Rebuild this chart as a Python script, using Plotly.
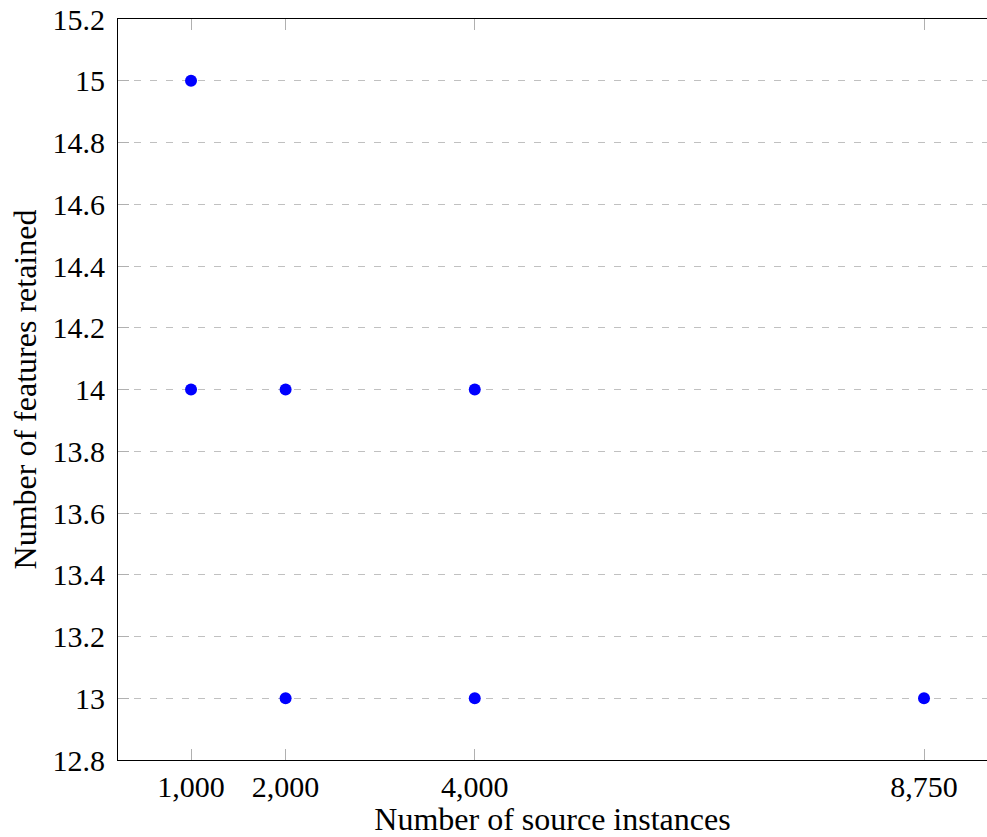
import plotly.graph_objects as go

source_instances = [1000, 1000, 2000, 2000, 4000, 4000, 8750]
features_retained = [15, 14, 14, 13, 14, 13, 13]
x_ticks = [1000, 2000, 4000, 8750]
x_tick_labels = ["1,000", "2,000", "4,000", "8,750"]
y_ticks = [12.8, 13, 13.2, 13.4, 13.6, 13.8, 14, 14.2, 14.4, 14.6, 14.8, 15, 15.2]
y_tick_labels = ["12.8", "13", "13.2", "13.4", "13.6", "13.8", "14", "14.2", "14.4", "14.6", "14.8", "15", "15.2"]

font_family = "Liberation Serif, DejaVu Serif, serif"

fig = go.Figure(
    go.Scatter(
        x=source_instances,
        y=features_retained,
        mode="markers",
        marker=dict(color="#0000ff", size=12, line=dict(width=0)),
        showlegend=False,
    )
)

fig.update_layout(
    width=987,
    height=837,
    margin=dict(l=118, r=0, t=19, b=77, autoexpand=False),
    paper_bgcolor="white",
    plot_bgcolor="white",
    font=dict(family=font_family, size=30, color="black"),
)

fig.update_xaxes(
    automargin=False,
    range=[228, 9416],
    tickvals=x_ticks,
    ticktext=x_tick_labels,
    showgrid=False,
    zeroline=False,
    showline=True,
    linecolor="black",
    linewidth=1.2,
    mirror="allticks",
    ticks="inside",
    ticklen=11,
    tickcolor="#b0b0b0",
    tickwidth=1.2,
    ticklabelstandoff=0,
    title=dict(text="Number of source instances", standoff=6, font=dict(size=32)),
    tickfont=dict(size=30),
)

fig.update_yaxes(
    automargin=False,
    range=[12.8, 15.2],
    tickvals=y_ticks,
    ticktext=y_tick_labels,
    showgrid=True,
    gridcolor="#c0c0c0",
    gridwidth=1,
    griddash="7px,9px",
    zeroline=False,
    showline=True,
    linecolor="black",
    linewidth=1.2,
    mirror=False,
    ticks="inside",
    ticklen=11,
    tickcolor="#b0b0b0",
    tickwidth=1.2,
    ticklabelstandoff=6,
    title=dict(text="Number of features retained", standoff=6, font=dict(size=32)),
    tickfont=dict(size=30),
)

fig.write_html(
    "out.html",
    config={"displayModeBar": False},
    post_script="document.body.style.margin='0';document.body.style.overflow='hidden';",
)
